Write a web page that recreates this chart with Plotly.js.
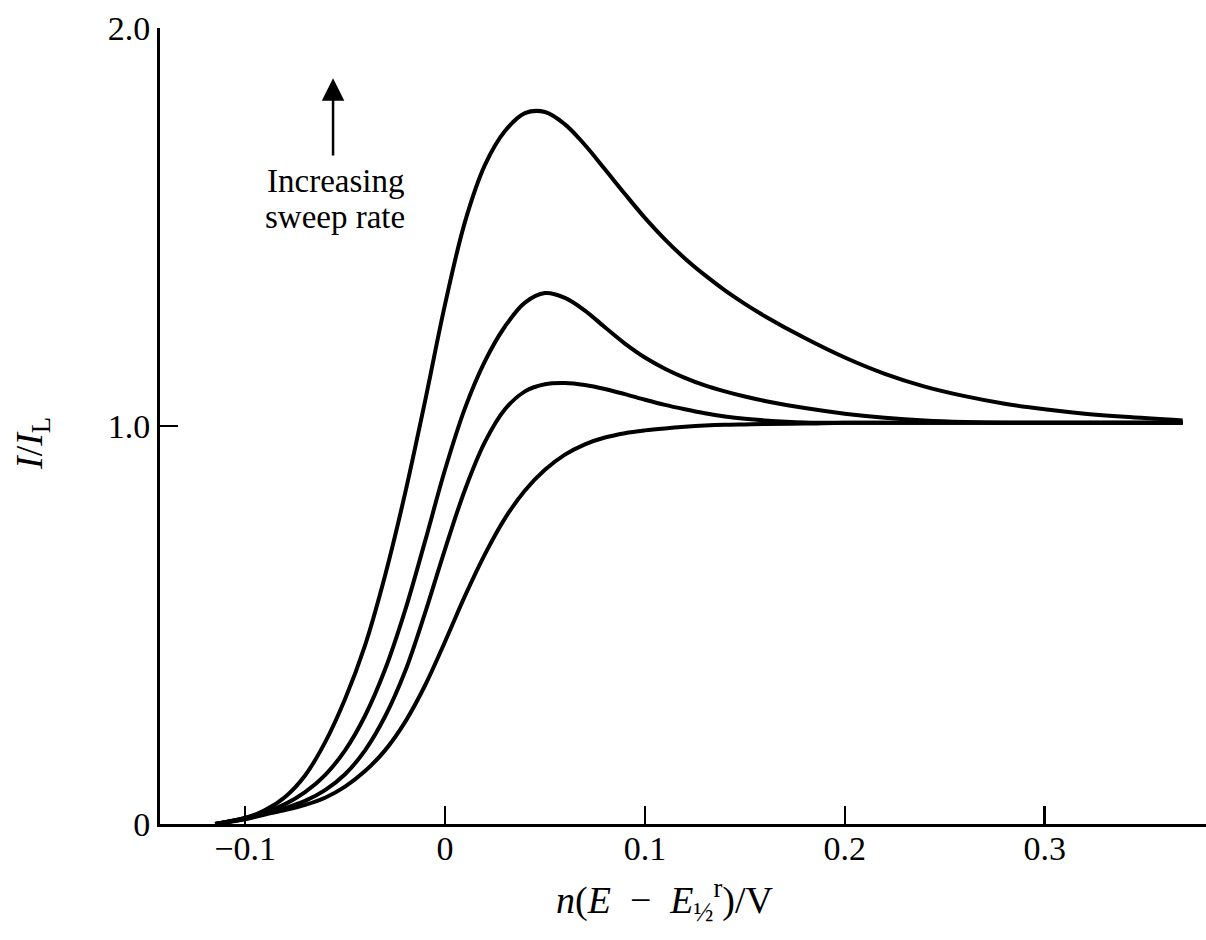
<!DOCTYPE html>
<html>
<head>
<meta charset="utf-8">
<script src="https://cdn.plot.ly/plotly-3.0.1.min.js"></script>
<style>
  html, body { margin: 0; padding: 0; background: #ffffff; }
  #chart { width: 1206px; height: 940px; }
</style>
</head>
<body>
<div id="chart"></div>
<script>
// Shared potential grid (n(E - E1/2)/V) for the four sweeps
const xs = [-0.115, -0.1, -0.09, -0.08, -0.07, -0.06, -0.05, -0.04, -0.03, -0.02, -0.01, 0, 0.01, 0.02, 0.03, 0.04, 0.05, 0.06, 0.07, 0.08, 0.09, 0.1, 0.11, 0.12, 0.13, 0.14, 0.15, 0.16, 0.18, 0.2, 0.22, 0.24, 0.26, 0.28, 0.3, 0.32, 0.34, 0.369];

// Curve 1: highest sweep rate (tallest peak)
const y1 = [0, 0.015, 0.035, 0.068, 0.122, 0.205, 0.314, 0.449, 0.624, 0.83, 1.062, 1.305, 1.513, 1.656, 1.741, 1.786, 1.789, 1.758, 1.706, 1.645, 1.583, 1.523, 1.469, 1.421, 1.379, 1.341, 1.307, 1.276, 1.221, 1.172, 1.131, 1.099, 1.075, 1.056, 1.042, 1.031, 1.023, 1.014];

// Curve 2
const y2 = [0, 0.015, 0.03, 0.05, 0.08, 0.123, 0.185, 0.272, 0.388, 0.536, 0.71, 0.89, 1.045, 1.163, 1.25, 1.31, 1.334, 1.322, 1.29, 1.248, 1.207, 1.172, 1.144, 1.121, 1.102, 1.087, 1.074, 1.063, 1.045, 1.031, 1.021, 1.014, 1.01, 1.008, 1.008, 1.008, 1.008, 1.008];

// Curve 3
const y3 = [0, 0.013, 0.026, 0.04, 0.058, 0.085, 0.125, 0.185, 0.27, 0.383, 0.53, 0.69, 0.84, 0.96, 1.042, 1.087, 1.105, 1.108, 1.103, 1.093, 1.08, 1.066, 1.053, 1.042, 1.032, 1.024, 1.018, 1.014, 1.009, 1.008, 1.008, 1.008, 1.008, 1.008, 1.008, 1.008, 1.008, 1.008];

// Curve 4: steady-state (no peak)
const y4 = [0, 0.012, 0.024, 0.035, 0.048, 0.066, 0.094, 0.133, 0.185, 0.256, 0.348, 0.458, 0.573, 0.678, 0.768, 0.838, 0.89, 0.928, 0.954, 0.971, 0.982, 0.989, 0.994, 0.998, 1.001, 1.003, 1.004, 1.005, 1.006, 1.008, 1.008, 1.008, 1.008, 1.008, 1.008, 1.008, 1.008, 1.008];

const xTickVals = [-0.1, 0, 0.1, 0.2, 0.3];
const xTickText = ['\u22120.1', '0', '0.1', '0.2', '0.3'];
const yTickVals = [0, 1, 2];
const yTickText = ['0', '1.0', '2.0'];

const FONT = 'Liberation Serif';
const lineStyle = { color: '#000000', width: 4, shape: 'spline', smoothing: 1 };

const traces = [y1, y2, y3, y4].map(ys => ({
  type: 'scatter', mode: 'lines', x: xs, y: ys, line: lineStyle, hoverinfo: 'skip'
}));

const layout = {
  width: 1206,
  height: 940,
  margin: { l: 160, r: 0, t: 28, b: 116 },
  paper_bgcolor: '#ffffff',
  plot_bgcolor: '#ffffff',
  showlegend: false,
  font: { family: FONT, color: '#000000', size: 33 },
  xaxis: {
    range: [-0.14257, 0.38069],
    tickvals: xTickVals,
    ticktext: xTickText,
    ticks: 'inside',
    ticklen: 18,
    tickwidth: 2.5,
    tickcolor: '#000000',
    showline: true,
    linecolor: '#000000',
    linewidth: 3,
    showgrid: false,
    zeroline: false,
    ticklabelstandoff: -8,
    tickfont: { family: FONT, size: 34, color: '#000000' }
  },
  yaxis: {
    range: [0, 2.0],
    tickvals: yTickVals,
    ticktext: yTickText,
    ticks: 'inside',
    ticklen: 18,
    tickwidth: 2.5,
    tickcolor: '#000000',
    showline: true,
    linecolor: '#000000',
    linewidth: 3,
    showgrid: false,
    zeroline: false,
    tickfont: { family: FONT, size: 34, color: '#000000' }
  },
  annotations: [
    {
      xref: 'paper', yref: 'paper',
      x: 0.4828, y: -0.0955, xanchor: 'center', yanchor: 'middle',
      text: '<i>n</i>(<i>E</i>  \u2212  <i>E</i><sub>\u00bd</sub><sup>r</sup>)/V',
      showarrow: false,
      font: { family: FONT, size: 38, color: '#000000' }
    },
    {
      xref: 'paper', yref: 'paper',
      x: -0.1224, y: 0.4786, xanchor: 'center', yanchor: 'middle',
      textangle: -90,
      text: '<i>I</i>/<i>I</i><sub>L</sub>',
      showarrow: false,
      font: { family: FONT, size: 38, color: '#000000' }
    },
    {
      xref: 'x', yref: 'y', axref: 'x', ayref: 'y',
      x: -0.056, y: 1.874, ax: -0.056, ay: 1.676,
      text: '', showarrow: true,
      arrowhead: 2, arrowsize: 1.8, arrowwidth: 2.5, arrowcolor: '#000000'
    },
    {
      xref: 'x', yref: 'y',
      x: -0.055, y: 1.616, yanchor: 'middle',
      text: 'Increasing',
      showarrow: false,
      font: { family: FONT, size: 33, color: '#000000' }
    },
    {
      xref: 'x', yref: 'y',
      x: -0.055, y: 1.524, yanchor: 'middle',
      text: 'sweep rate',
      showarrow: false,
      font: { family: FONT, size: 33, color: '#000000' }
    }
  ]
};

Plotly.newPlot('chart', traces, layout, { staticPlot: true, displayModeBar: false });
</script>
</body>
</html>
